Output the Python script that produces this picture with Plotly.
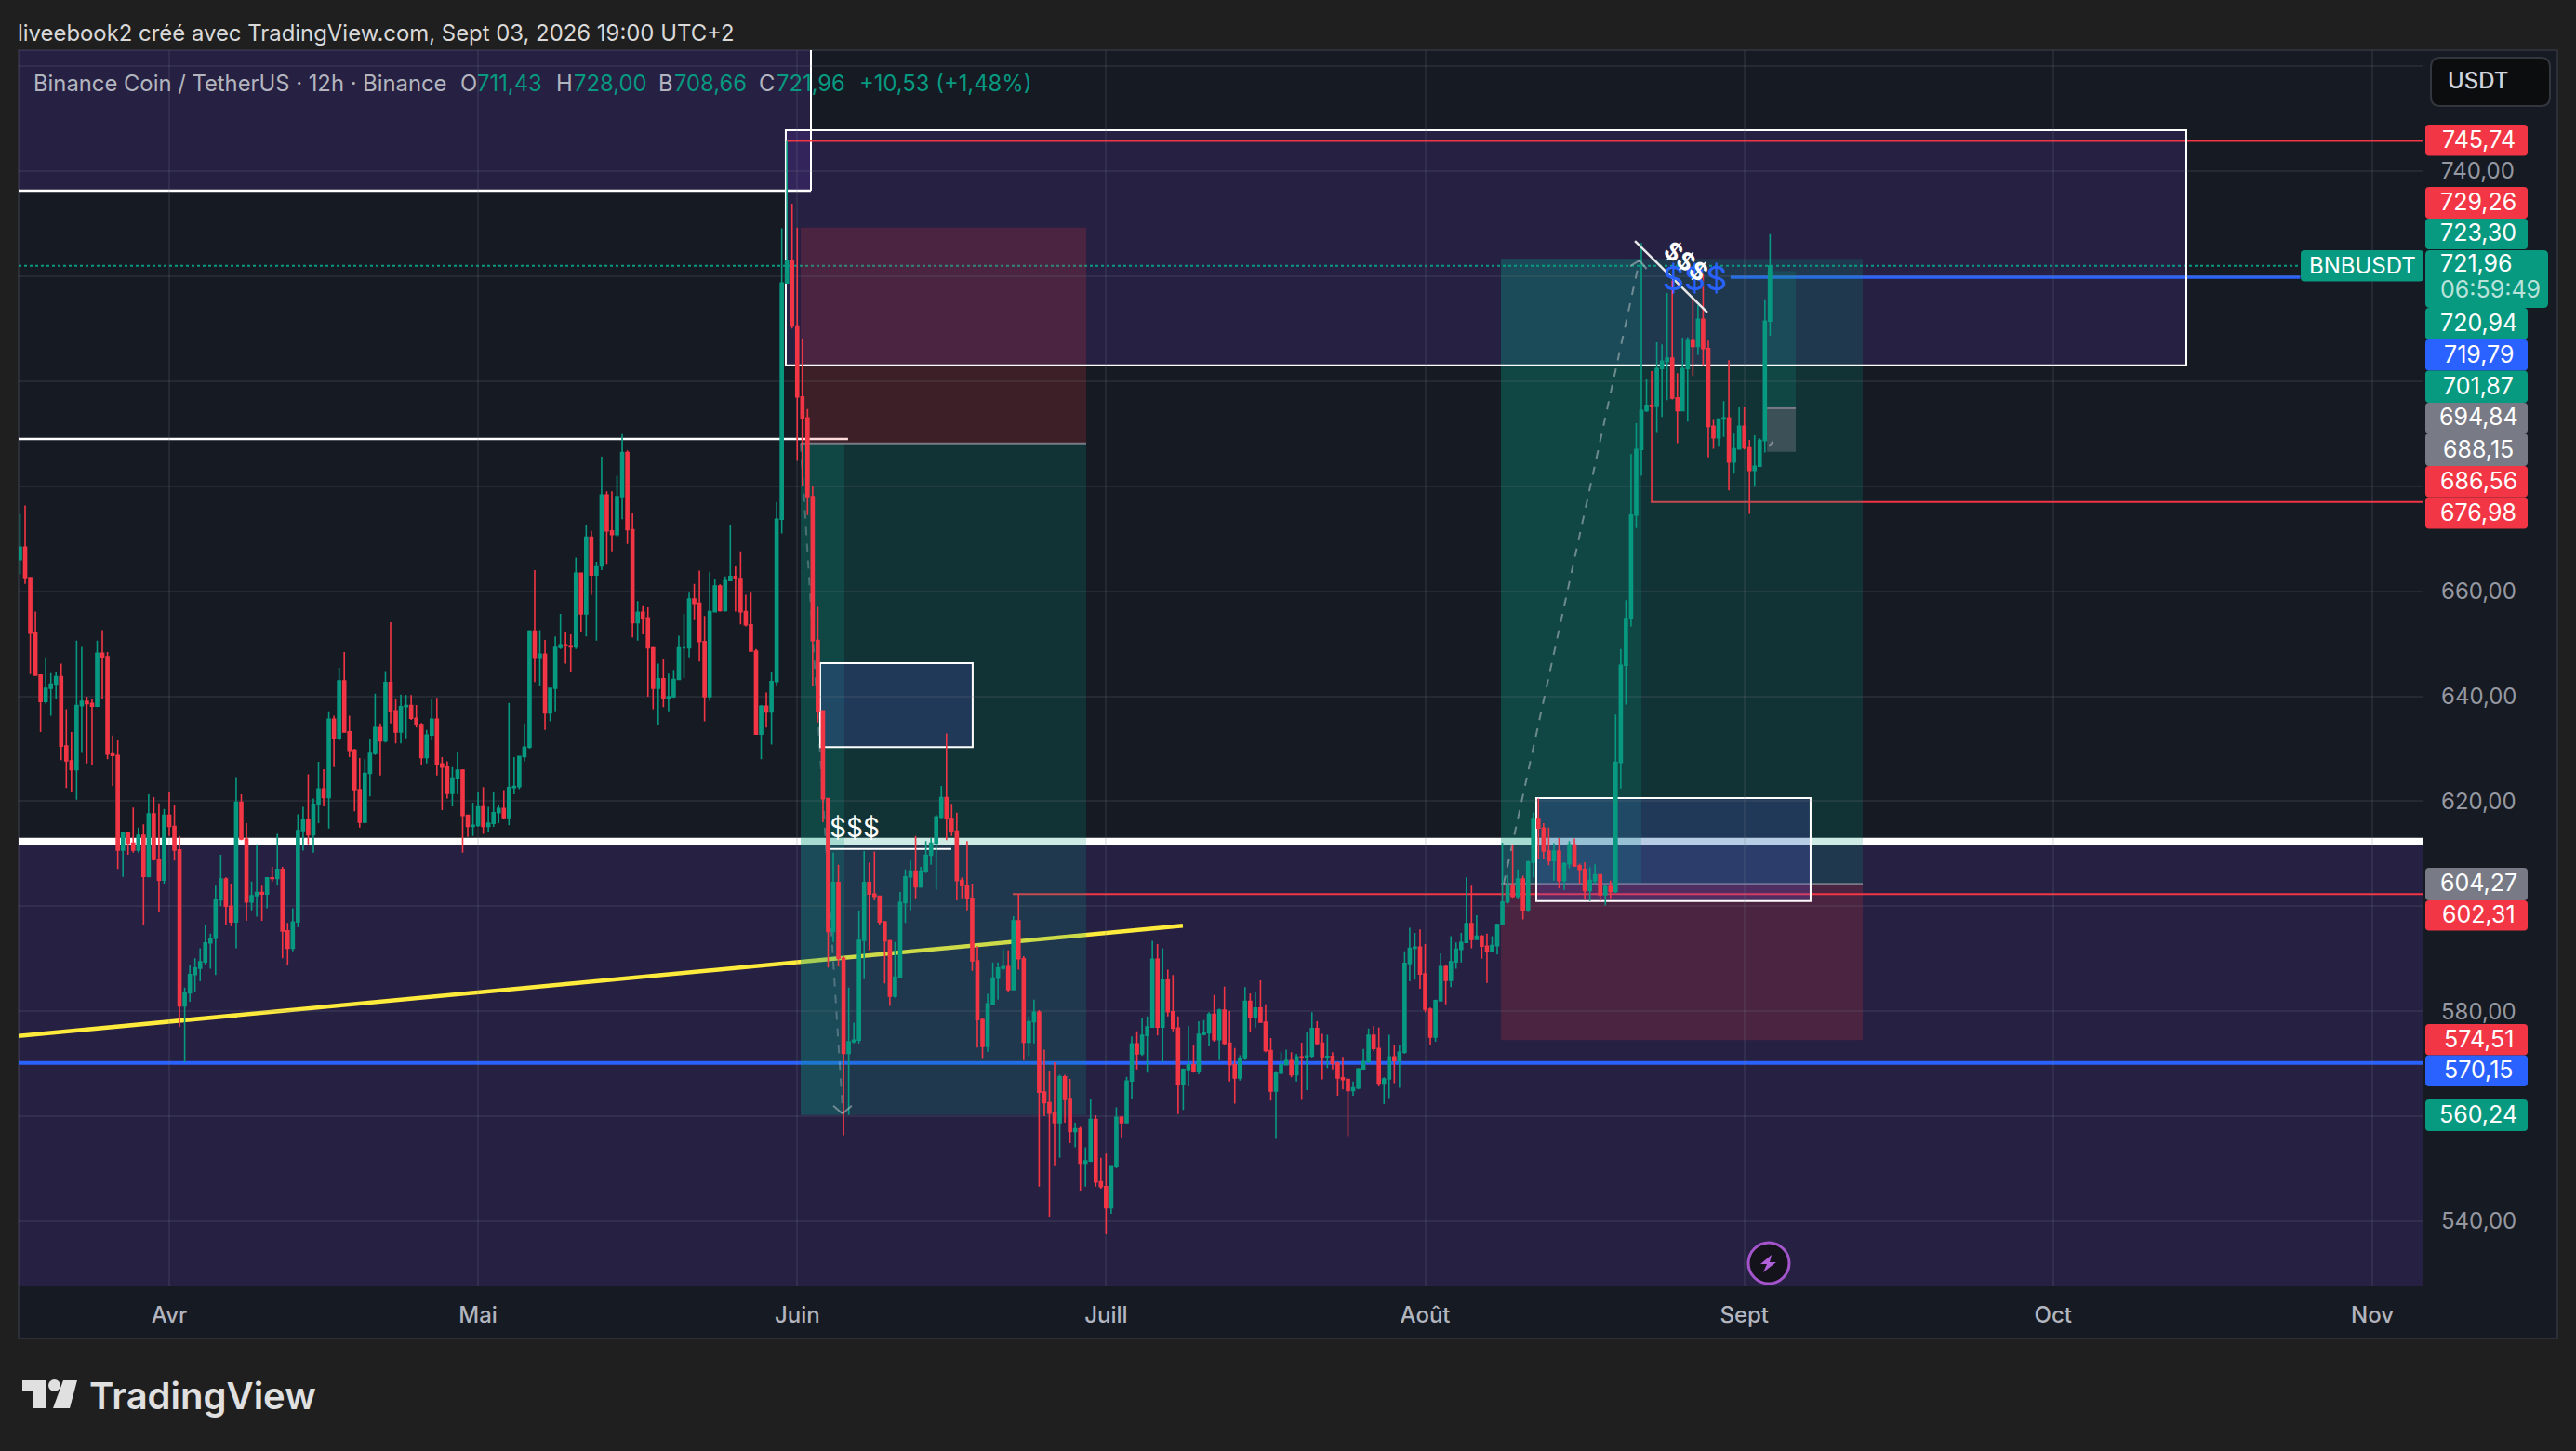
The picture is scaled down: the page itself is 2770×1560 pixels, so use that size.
import pandas as pd
import plotly.graph_objects as go

W, H = 2770, 1560

# -------------------------
# bougies 12h, open = close precedent
# -------------------------
first_open = 666.0
start_date = "2026-03-17 12:00"

closes = [
    668.4, 662.6, 652.0, 644.0, 639.0, 641.5, 642.3, 643.7, 630.5, 627.7,
    626.0, 638.2, 639.0, 638.6, 638.1, 648.2, 647.5, 629.0, 628.7, 610.7,
    613.9, 612.0, 610.7, 613.5, 605.7, 617.6, 608.9, 605.0, 617.3, 615.2,
    610.7, 581.0, 583.5, 587.0, 588.2, 589.4, 593.0, 593.9, 601.2, 605.2,
    600.0, 597.0, 619.8, 612.8, 600.8, 602.0, 602.6, 602.3, 605.4, 605.3,
    607.0, 595.3, 592.0, 597.0, 614.4, 616.4, 613.6, 619.4, 622.3, 620.7,
    635.6, 632.0, 642.9, 633.2, 629.7, 622.2, 616.0, 625.3, 629.1, 634.0,
    631.5, 642.6, 637.2, 633.2, 638.0, 638.2, 635.8, 634.6, 628.3, 632.6,
    635.6, 627.1, 626.5, 621.5, 624.4, 625.9, 617.3, 615.2, 615.4, 618.9,
    615.2, 615.8, 617.8, 618.6, 616.9, 622.6, 622.8, 628.5, 630.3, 652.4,
    647.4, 648.0, 636.8, 641.5, 649.3, 649.8, 649.6, 649.4, 663.4, 655.7,
    670.3, 663.1, 664.8, 678.3, 671.5, 670.8, 678.0, 686.4, 671.7, 654.0,
    656.0, 654.9, 649.2, 641.5, 643.3, 639.7, 639.9, 643.2, 649.2, 649.2,
    658.5, 657.7, 650.4, 639.9, 656.1, 661.0, 656.3, 662.0, 662.8, 662.4,
    656.1, 653.6, 648.6, 632.8, 638.1, 637.0, 642.8, 673.7, 718.7, 722.9,
    710.5, 697.0, 693.0, 678.0, 650.6, 637.2, 620.5, 595.2, 604.5, 590.1,
    572.0, 574.2, 574.5, 593.5, 604.5, 602.3, 601.9, 597.0, 593.4, 582.9,
    586.5, 600.7, 605.6, 606.7, 603.7, 606.7, 609.7, 612.0, 617.0, 620.7,
    616.7, 614.3, 604.9, 603.9, 601.5, 589.6, 578.4, 573.3, 581.4, 586.3,
    588.2, 588.5, 584.1, 597.2, 590.0, 574.1, 578.0, 579.8, 564.6, 562.6,
    560.6, 558.8, 567.5, 563.2, 557.1, 557.6, 551.1, 551.5, 559.4, 547.5,
    546.6, 542.6, 550.4, 559.8, 558.8, 566.7, 573.8, 571.9, 575.4, 577.0,
    589.9, 577.0, 585.9, 579.9, 576.8, 566.2, 568.9, 569.8, 568.6, 575.6,
    575.9, 579.4, 574.6, 580.2, 573.9, 569.8, 567.3, 571.0, 581.9, 578.8,
    580.6, 577.9, 572.5, 564.8, 568.2, 569.8, 570.6, 567.9, 571.3, 571.2,
    571.5, 576.7, 573.9, 571.2, 571.4, 570.1, 567.3, 567.0, 564.9, 565.4,
    569.0, 570.4, 575.4, 572.9, 566.3, 567.1, 571.3, 570.6, 572.2, 589.1,
    592.0, 592.2, 587.1, 580.4, 575.1, 582.0, 588.5, 585.9, 589.4, 591.8,
    593.1, 596.7, 593.7, 594.3, 592.4, 591.5, 592.5, 596.5, 600.8, 604.0,
    601.9, 605.2, 599.3, 608.4, 616.7, 614.9, 610.5, 608.7, 610.5, 604.9,
    608.1, 611.7, 607.7, 607.0, 603.0, 604.9, 606.0, 602.2, 603.7, 602.8,
    627.4, 645.9, 654.8, 674.5, 687.0, 694.4, 695.4, 695.2, 702.4, 703.8,
    704.4, 696.8, 694.4, 702.4, 707.7, 706.6, 711.8, 706.2, 691.4, 689.2,
    692.8, 693.0, 684.6, 687.1, 691.4, 687.3, 683.0, 683.8, 688.7, 711.43,
    721.96,
]

highs = [
    674.7, 676.3, 662.6, 656.1, 643.9, 647.4, 644.4, 644.6, 646.2, 637.5,
    633.2, 650.6, 649.4, 639.9, 639.5, 650.6, 652.6, 648.4, 632.5, 631.6,
    614.2, 614.2, 618.8, 615.0, 615.6, 621.3, 620.8, 619.6, 618.5, 621.7,
    619.3, 613.4, 584.5, 588.9, 590.1, 592.0, 596.4, 594.8, 603.9, 609.8,
    605.5, 604.3, 624.6, 621.3, 615.8, 604.7, 611.8, 603.9, 605.5, 607.5,
    613.8, 607.5, 596.8, 599.6, 617.5, 618.9, 625.1, 620.5, 627.5, 626.1,
    637.1, 636.3, 645.4, 648.4, 636.3, 630.0, 628.2, 628.0, 631.8, 640.5,
    634.8, 644.8, 654.1, 639.5, 640.3, 640.2, 640.2, 638.3, 634.9, 633.6,
    639.5, 639.7, 628.4, 627.6, 626.5, 629.4, 626.1, 617.2, 619.7, 621.7,
    622.7, 618.9, 621.7, 619.3, 622.1, 638.7, 628.4, 628.6, 634.8, 652.6,
    664.0, 652.6, 650.7, 641.5, 651.4, 655.7, 652.2, 651.8, 666.4, 663.4,
    672.7, 671.5, 665.6, 685.6, 679.0, 679.0, 682.0, 689.9, 686.8, 674.9,
    658.1, 657.3, 656.9, 649.4, 646.2, 647.0, 644.3, 645.0, 651.5, 655.7,
    659.7, 661.4, 663.9, 655.3, 663.6, 662.4, 661.3, 662.8, 672.7, 664.8,
    667.6, 659.3, 659.7, 649.0, 638.3, 640.7, 644.6, 677.0, 729.1, 745.74,
    733.8, 729.26, 708.0, 694.7, 680.0, 657.0, 637.2, 620.6, 610.2, 607.9,
    590.5, 584.5, 577.8, 599.2, 610.5, 608.3, 610.4, 601.9, 597.2, 593.6,
    593.2, 602.7, 607.0, 608.7, 613.4, 607.5, 612.4, 613.0, 617.4, 622.9,
    632.9, 619.5, 617.8, 605.5, 612.4, 604.3, 592.4, 578.6, 583.3, 589.3,
    589.3, 591.8, 591.6, 598.1, 602.31, 590.5, 579.0, 582.2, 580.2, 572.7,
    568.7, 570.3, 567.9, 567.9, 567.1, 558.8, 558.0, 554.1, 563.2, 560.2,
    552.1, 552.9, 550.5, 561.7, 560.0, 567.5, 575.2, 576.2, 578.8, 579.0,
    593.4, 592.8, 592.0, 587.9, 586.9, 579.0, 569.1, 577.2, 573.6, 578.1,
    578.3, 579.8, 583.1, 580.5, 584.7, 580.1, 573.0, 571.6, 584.6, 583.4,
    583.7, 585.9, 581.3, 574.9, 568.6, 572.2, 572.7, 572.2, 571.9, 574.0,
    576.0, 579.8, 578.1, 575.7, 575.5, 572.2, 570.4, 571.3, 567.0, 566.6,
    569.2, 572.8, 576.7, 577.2, 576.9, 567.4, 575.5, 573.5, 573.6, 591.4,
    595.9, 594.9, 595.6, 592.8, 580.7, 582.2, 591.0, 588.7, 594.3, 593.1,
    594.9, 605.5, 603.9, 598.3, 594.5, 594.8, 594.3, 596.7, 612.1, 606.0,
    611.7, 607.0, 605.8, 608.7, 617.8, 620.5, 615.8, 615.0, 612.0, 613.0,
    608.4, 612.4, 612.9, 608.1, 608.4, 607.4, 608.0, 606.1, 604.0, 604.9,
    636.5, 649.0, 658.3, 686.1, 692.0, 726.3, 700.3, 701.9, 707.4, 707.0,
    716.8, 719.2, 701.5, 708.3, 708.4, 715.9, 714.5, 720.4, 707.7, 692.6,
    692.9, 696.2, 704.0, 690.0, 695.0, 695.0, 688.8, 689.7, 689.1, 715.6,
    728.0,
]

lows = [
    663.2, 661.4, 644.2, 643.9, 633.2, 638.6, 636.3, 639.5, 627.8, 622.5,
    621.7, 620.3, 629.2, 627.2, 626.8, 637.9, 639.5, 628.0, 622.9, 607.1,
    605.6, 609.8, 610.2, 610.2, 596.4, 605.5, 608.7, 598.8, 604.3, 613.4,
    608.7, 577.0, 570.3, 581.8, 583.7, 585.7, 588.9, 588.1, 586.9, 600.0,
    596.4, 596.2, 592.0, 612.6, 597.2, 599.2, 598.0, 597.2, 599.6, 604.7,
    603.9, 590.1, 588.9, 591.4, 596.0, 610.6, 611.8, 610.2, 615.8, 619.0,
    614.8, 626.5, 631.6, 633.2, 628.4, 618.1, 615.0, 615.8, 620.9, 628.8,
    624.9, 631.2, 634.8, 631.0, 631.0, 632.0, 635.5, 634.0, 626.8, 627.2,
    631.6, 624.9, 618.3, 620.5, 619.0, 621.3, 610.2, 613.2, 613.4, 615.1,
    613.8, 614.2, 615.1, 615.8, 616.6, 615.4, 621.3, 622.3, 627.6, 630.0,
    642.7, 641.9, 633.6, 635.2, 637.1, 649.0, 646.2, 644.6, 649.0, 652.2,
    651.4, 659.3, 650.6, 664.0, 665.2, 667.6, 670.4, 673.7, 669.0, 651.2,
    650.6, 651.8, 639.9, 637.5, 634.4, 637.9, 637.1, 639.7, 643.1, 643.5,
    647.4, 654.5, 646.6, 635.2, 639.1, 656.1, 656.1, 656.1, 662.0, 656.1,
    653.7, 653.3, 648.6, 632.8, 628.0, 634.0, 630.8, 642.0, 671.0, 718.7,
    710.0, 684.8, 680.0, 674.5, 642.0, 635.0, 616.0, 588.3, 593.2, 588.5,
    556.4, 560.24, 573.9, 573.9, 586.1, 591.6, 601.1, 596.4, 585.3, 581.0,
    582.6, 586.5, 596.8, 599.2, 601.5, 603.5, 606.3, 607.9, 603.1, 616.6,
    612.6, 613.4, 601.1, 601.5, 599.2, 587.7, 573.1, 570.9, 572.3, 581.4,
    582.2, 587.7, 583.6, 584.1, 587.9, 570.7, 571.5, 573.9, 546.6, 560.0,
    540.9, 550.5, 552.1, 558.8, 554.9, 554.1, 545.8, 546.6, 551.3, 546.6,
    546.2, 537.5, 541.4, 550.1, 556.0, 558.8, 563.2, 568.9, 571.5, 568.3,
    577.0, 575.4, 570.3, 579.0, 576.2, 560.4, 561.2, 565.7, 568.3, 568.0,
    575.4, 573.3, 574.2, 570.7, 573.6, 566.6, 562.4, 566.8, 570.7, 576.0,
    576.9, 577.8, 572.2, 563.0, 555.7, 568.0, 569.8, 567.4, 566.6, 563.1,
    565.0, 571.2, 573.6, 567.0, 569.2, 568.9, 563.9, 565.1, 556.2, 563.9,
    565.1, 568.9, 570.1, 572.4, 565.7, 562.3, 563.3, 566.3, 565.4, 571.9,
    585.7, 586.0, 584.3, 579.8, 573.6, 574.2, 581.9, 581.3, 584.6, 588.1,
    589.3, 593.1, 592.0, 593.7, 590.0, 585.4, 591.3, 590.8, 596.4, 600.5,
    601.6, 601.3, 597.5, 599.1, 605.5, 609.0, 609.0, 607.8, 604.9, 603.4,
    603.1, 607.2, 607.5, 604.3, 601.3, 601.0, 604.3, 601.0, 600.2, 601.5,
    602.5, 622.4, 638.4, 653.3, 672.0, 682.0, 694.1, 676.98, 690.3, 693.2,
    696.4, 696.5, 688.2, 694.4, 692.3, 701.0, 705.0, 703.0, 685.5, 687.1,
    687.5, 689.4, 679.2, 682.4, 687.0, 687.0, 674.7, 679.9, 683.8, 686.4,
    708.66,
]

opens = [first_open] + closes[:-1]
dates = pd.date_range(start_date, periods=len(closes), freq="12h")

# -------------------------
# axes
# -------------------------
month_dates = ["2026-04-01", "2026-05-01", "2026-06-01", "2026-07-01", "2026-08-01",
               "2026-09-01", "2026-10-01", "2026-11-01"]
month_labels = ["Avr", "Mai", "Juin", "Juill", "Août", "Sept", "Oct", "Nov"]
grid_prices = [760, 740, 720, 700, 680, 660, 640, 620, 600, 580, 560, 540]
grid_labels = ["", "740,00", "", "", "", "660,00", "640,00", "620,00", "", "580,00", "", "540,00"]
x_start, x_end = "2026-03-17 08:47", "2026-11-05 23:20"
y_low, y_high = 527.6, 763.03

# niveaux dessinés sur le graphique
box_top, box_bottom = 747.8, 703.0
upper_line = 736.3
mid_white = 689.0
thick_white = 612.3
red_top = 745.74
red_mid = 676.98
red_low = 602.31
blue_high = 719.79
blue_low = 570.15
last_price = 721.96

# étiquettes de prix
tag_texts = ["745,74", "729,26", "723,30", "720,94", "719,79", "701,87", "694,84",
             "688,15", "686,56", "676,98", "604,27", "602,31", "574,51", "570,15", "560,24"]
tag_colors = ["red", "red", "green", "green", "blue", "green", "gray",
              "gray", "red", "red", "gray", "red", "red", "blue", "green"]

RED = "#f23645"
GREEN = "#089981"
BLUE = "#2962ff"
GRAY = "#787b86"
TAG = {"red": RED, "green": GREEN, "blue": BLUE, "gray": GRAY}
FONT = "Inter"


def px(x):
    return x / W


def py(y):
    return 1 - y / H


def round_path(x0, y0, x1, y1, r=5):
    # rectangle arrondi en coordonnées paper (entrée en pixels)
    pts = [("M", x0 + r, y0), ("L", x1 - r, y0), ("Q", x1, y0, x1, y0 + r), ("L", x1, y1 - r),
           ("Q", x1, y1, x1 - r, y1), ("L", x0 + r, y1), ("Q", x0, y1, x0, y1 - r),
           ("L", x0, y0 + r), ("Q", x0, y0, x0 + r, y0)]
    out = []
    for p in pts:
        if p[0] == "Q":
            out.append(f"Q{px(p[1])},{py(p[2])} {px(p[3])},{py(p[4])}")
        else:
            out.append(f"{p[0]}{px(p[1])},{py(p[2])}")
    return " ".join(out) + " Z"


def poly_path(points):
    return "M" + " L".join(f"{px(a)},{py(b)}" for a, b in points) + " Z"


shapes = []


def zone(x0, x1, y0, y1, fill, line=None, width=0, layer="below"):
    shapes.append(dict(type="rect", xref="x", yref="y", x0=x0, x1=x1, y0=y0, y1=y1,
                       fillcolor=fill, line=dict(color=line or "rgba(0,0,0,0)", width=width), layer=layer))


def seg(x0, y0, x1, y1, color, width=2, dash="solid", layer="below"):
    shapes.append(dict(type="line", xref="x", yref="y", x0=x0, x1=x1, y0=y0, y1=y1,
                       line=dict(color=color, width=width, dash=dash), layer=layer))


# fond du panneau
shapes.append(dict(type="rect", xref="paper", yref="paper", x0=px(20), x1=px(2750), y0=py(1439), y1=py(54),
                   fillcolor="#151a23", line=dict(color="#2c2f36", width=2), layer="below"))

PURPLE = "rgba(103,58,183,0.21)"
BOX_FILL = "rgba(95,85,225,0.2)"
RED_FILL = "rgba(242,54,69,0.18)"
GREEN_FILL = "rgba(8,153,129,0.2)"
GREEN_FILL2 = "rgba(8,153,129,0.2)"

# zones violettes
zone(x_start, "2026-06-02 08:00", upper_line, y_high, PURPLE)
zone(x_start, x_end, y_low, thick_white, PURPLE)
zone("2026-05-30 21:20", "2026-10-13 22:30", box_bottom, box_top, PURPLE)

# lignes horizontales
seg(x_start, thick_white, x_end, thick_white, "#ffffff", 8)
seg(x_start, blue_low, x_end, blue_low, BLUE, 4)
seg(x_start, upper_line, "2026-06-02 08:00", upper_line, "#ffffff", 2.5)
seg("2026-06-02 08:00", upper_line, "2026-06-02 08:00", y_high, "#ffffff", 2)
seg(x_start, mid_white, "2026-06-05 22:30", mid_white, "#ffffff", 2.5)
seg("2026-05-30 21:20", red_top, x_end, red_top, RED, 2)
seg("2026-08-22 21:40", red_mid, x_end, red_mid, RED, 2)
seg("2026-06-21 22:20", red_low, x_end, red_low, RED, 2)
seg(x_start, last_price, "2026-10-25 00:00", last_price, GREEN, 2, "dot")
seg("2026-08-30 16:00", blue_high, "2026-10-25 00:00", blue_high, BLUE, 3.5)

# ligne de tendance jaune
seg(x_start, 575.3, "2026-07-08 11:00", 596.3, "#ffeb3b", 4.5)

# position short (juin)
zone("2026-06-01 08:00", "2026-06-29 01:40", 688.15, 729.26, RED_FILL)
zone("2026-06-01 08:00", "2026-06-29 01:40", 560.24, 688.15, GREEN_FILL)
zone("2026-06-01 08:00", "2026-06-05 14:00", 560.24, 688.15, GREEN_FILL2)
seg("2026-06-01 08:00", 688.15, "2026-06-29 01:40", 688.15, GRAY, 2)

# position long (août)
zone("2026-08-08 08:40", "2026-09-12 12:00", 604.27, 723.30, GREEN_FILL)
zone("2026-08-08 08:40", "2026-09-12 12:00", 574.51, 604.27, RED_FILL)
zone("2026-08-08 08:40", "2026-08-22 00:00", 604.27, 723.30, GREEN_FILL2)
seg("2026-08-08 08:40", 604.27, "2026-09-12 12:00", 604.27, GRAY, 2)

# petite position (sept)
zone("2026-09-03 05:00", "2026-09-06 00:00", 694.84, 720.94, GREEN_FILL)
zone("2026-09-03 05:00", "2026-09-06 00:00", 686.56, 694.84, "rgba(120,123,134,0.42)")
seg("2026-09-03 05:00", 694.84, "2026-09-06 00:00", 694.84, GRAY, 2)

# rectangles blancs
zone("2026-05-30 21:20", "2026-10-13 22:30", box_bottom, box_top, "rgba(0,0,0,0)", "#ffffff", 2)
zone("2026-06-03 05:30", "2026-06-18 01:00", 630.3, 646.3, BOX_FILL, "#ffffff", 2)
zone("2026-08-11 19:00", "2026-09-07 10:30", 601.0, 620.6, BOX_FILL, "#ffffff", 2)
seg("2026-06-04 05:30", 610.9, "2026-06-15 23:20", 610.9, "#ffffff", 2)

# trajectoires en pointillés
DASH = "rgba(200,203,210,0.32)"
DASH2 = "rgba(200,203,210,0.5)"
seg("2026-06-01 08:00", 688.15, "2026-06-05 09:30", 561.6, DASH, 2, "dash")
seg("2026-06-04 12:00", 562.0, "2026-06-05 09:30", 560.5, DASH2, 2, "solid", "above")
seg("2026-06-06 07:00", 562.0, "2026-06-05 09:30", 560.5, DASH2, 2, "solid", "above")
seg("2026-08-08 15:00", 604.27, "2026-08-21 19:40", 723.0, DASH2, 2, "dash")
seg("2026-08-20 22:00", 721.9, "2026-08-21 19:40", 723.0, DASH2, 2, "solid", "above")
seg("2026-08-22 12:00", 721.4, "2026-08-21 19:40", 723.0, DASH2, 2, "solid", "above")
seg("2026-09-03 09:30", 687.6, "2026-09-03 19:00", 688.5, DASH2, 2, "solid", "above")

# oblique blanche
seg("2026-08-21 09:00", 726.7, "2026-08-28 09:40", 713.1, "#e8e8e8", 2.5, "solid", "above")

# étiquettes à droite (empilées comme dans TradingView)
tag_boxes = [(134, 167.5), (201, 235), (235, 268), (331, 365), (365, 398.6), (398.6, 433), (433, 466),
             (466, 501), (501, 534.6), (534.6, 568.6), (933, 968), (968, 1000.6), (1101, 1134.6),
             (1134.6, 1168), (1182, 1216)]
annots = []


def label(x, y, text, size=24, color="#ffffff", anchor="left", weight=400, family=FONT, angle=0, yshift=1):
    # xshift compense le padding des annotations
    annots.append(dict(xref="paper", yref="paper", x=px(x), y=py(y), text=text, showarrow=False,
                       xanchor=anchor, yanchor="middle", textangle=angle, xshift=-3 if anchor == "left" else 0,
                       yshift=yshift, font=dict(size=size, color=color, family=family, weight=weight)))


for txt, col, (top, bot) in zip(tag_texts, tag_colors, tag_boxes):
    shapes.append(dict(type="path", xref="paper", yref="paper", path=round_path(2608, top, 2718, bot, 4),
                       fillcolor=TAG[col], line=dict(width=0), layer="above"))
    label(2665, (top + bot) / 2, txt, color="#ffffff", anchor="center", size=25)

# dernier prix + compte à rebours
shapes.append(dict(type="path", xref="paper", yref="paper", path=round_path(2608, 269, 2740, 331, 5),
                   fillcolor=GREEN, line=dict(width=0), layer="above"))
label(2625, 284, "721,96", size=25)
label(2625, 312, "06:59:49", color="#b9e3da", size=25)

# BNBUSDT
shapes.append(dict(type="path", xref="paper", yref="paper", path=round_path(2474, 269, 2606, 302.5, 4),
                   fillcolor=GREEN, line=dict(width=0), layer="above"))
label(2540, 286, "BNBUSDT", anchor="center")

# bouton USDT
shapes.append(dict(type="path", xref="paper", yref="paper", path=round_path(2614, 62, 2742, 114, 10),
                   fillcolor="#0c0d0f", line=dict(color="#33363c", width=2), layer="above"))
label(2633, 87, "USDT", color="#d1d4dc", weight=500)

# en-tête
label(20, 35, "liveebook2 créé avec TradingView.com, Sept 03, 2026 19:00 UTC+2", color="#d9d9d9", size=23.9, yshift=0)

# légende OHLC
legend_texts = ["Binance Coin / TetherUS · 12h · Binance", "O", "711,43", "H", "728,00", "B", "708,66", "C", "721,96",
                "+10,53 (+1,48%)"]
legend_colors = ["#b2b5be", "#b2b5be", GREEN, "#b2b5be", GREEN, "#b2b5be", GREEN, "#b2b5be", GREEN, GREEN]
legend_x = [37, 496, 514, 599, 618, 709, 726, 817, 836, 925]
for txt, col, x in zip(legend_texts, legend_colors, legend_x):
    label(x, 89, txt, color=col, size=23.8, yshift=0)

# $$$
label(919, 891, "$$$", size=28, color="#ffffff", anchor="center")
label(1822, 300, "$$$", size=36, color=BLUE, anchor="center")
label(1813, 281, "$$$", size=26, color="#ffffff", anchor="center", weight=700, angle=38)

# icône éclair
shapes.append(dict(type="circle", xref="paper", yref="paper", x0=px(1880), x1=px(1924), y0=py(1380), y1=py(1336),
                   fillcolor="#14121b", line=dict(color="#a555cc", width=3), layer="above"))
bolt = [(1905, 1349), (1893, 1359), (1900, 1359), (1896, 1368), (1910, 1357), (1903, 1357)]
shapes.append(dict(type="path", xref="paper", yref="paper", path=poly_path(bolt),
                   fillcolor="#b060d8", line=dict(width=0), layer="above"))

# logo TradingView
LOGO = "#e0e0e0"
t_mark = [(24, 1484), (49, 1484), (49, 1514), (36, 1514), (36, 1495), (24, 1495)]
slash = [(68, 1484), (83, 1484), (75, 1514), (57, 1514)]
shapes.append(dict(type="path", xref="paper", yref="paper", path=poly_path(t_mark), fillcolor=LOGO,
                   line=dict(width=0), layer="above"))
shapes.append(dict(type="path", xref="paper", yref="paper", path=poly_path(slash), fillcolor=LOGO,
                   line=dict(width=0), layer="above"))
shapes.append(dict(type="circle", xref="paper", yref="paper", x0=px(52), x1=px(65), y0=py(1496), y1=py(1483),
                   fillcolor=LOGO, line=dict(width=0), layer="above"))
label(97, 1501, "TradingView", size=40, color=LOGO, weight=600)

fig = go.Figure(go.Candlestick(
    x=dates, open=opens, high=highs, low=lows, close=closes,
    increasing=dict(line=dict(color=GREEN, width=1.6), fillcolor=GREEN),
    decreasing=dict(line=dict(color=RED, width=1.6), fillcolor=RED),
    whiskerwidth=0, showlegend=False, hoverinfo="skip",
))

fig.update_layout(
    width=W, height=H, margin=dict(l=0, r=0, t=0, b=0),
    paper_bgcolor="#1f1f1f", plot_bgcolor="rgba(0,0,0,0)",
    font=dict(family=FONT, size=24, color="#b2b5be"),
    shapes=shapes, annotations=annots, boxgap=0.45, boxgroupgap=0, showlegend=False,
    xaxis=dict(
        domain=[px(20), px(2606)], range=[x_start, x_end], type="date",
        tickmode="array", tickvals=month_dates, ticktext=month_labels,
        rangeslider=dict(visible=False), showline=False, zeroline=False, ticklen=0,
        gridcolor="rgba(120,123,134,0.16)", gridwidth=2, anchor="y",
        tickfont=dict(size=24, color="#b2b5be", family=FONT, weight=500),
        ticklabelstandoff=14,
    ),
    yaxis=dict(
        domain=[py(1383), py(54)], range=[y_low, y_high], side="right", anchor="x",
        tickmode="array", tickvals=grid_prices, ticktext=grid_labels,
        showline=False, zeroline=False, ticklen=0,
        gridcolor="rgba(120,123,134,0.16)", gridwidth=2,
        tickfont=dict(size=24, color="#9598a1", family=FONT),
        ticklabelstandoff=18,
    ),
)

fig.write_html("out.html", config=dict(displayModeBar=False),
               post_script="document.body.style.margin='0';document.body.style.overflow='hidden';")
